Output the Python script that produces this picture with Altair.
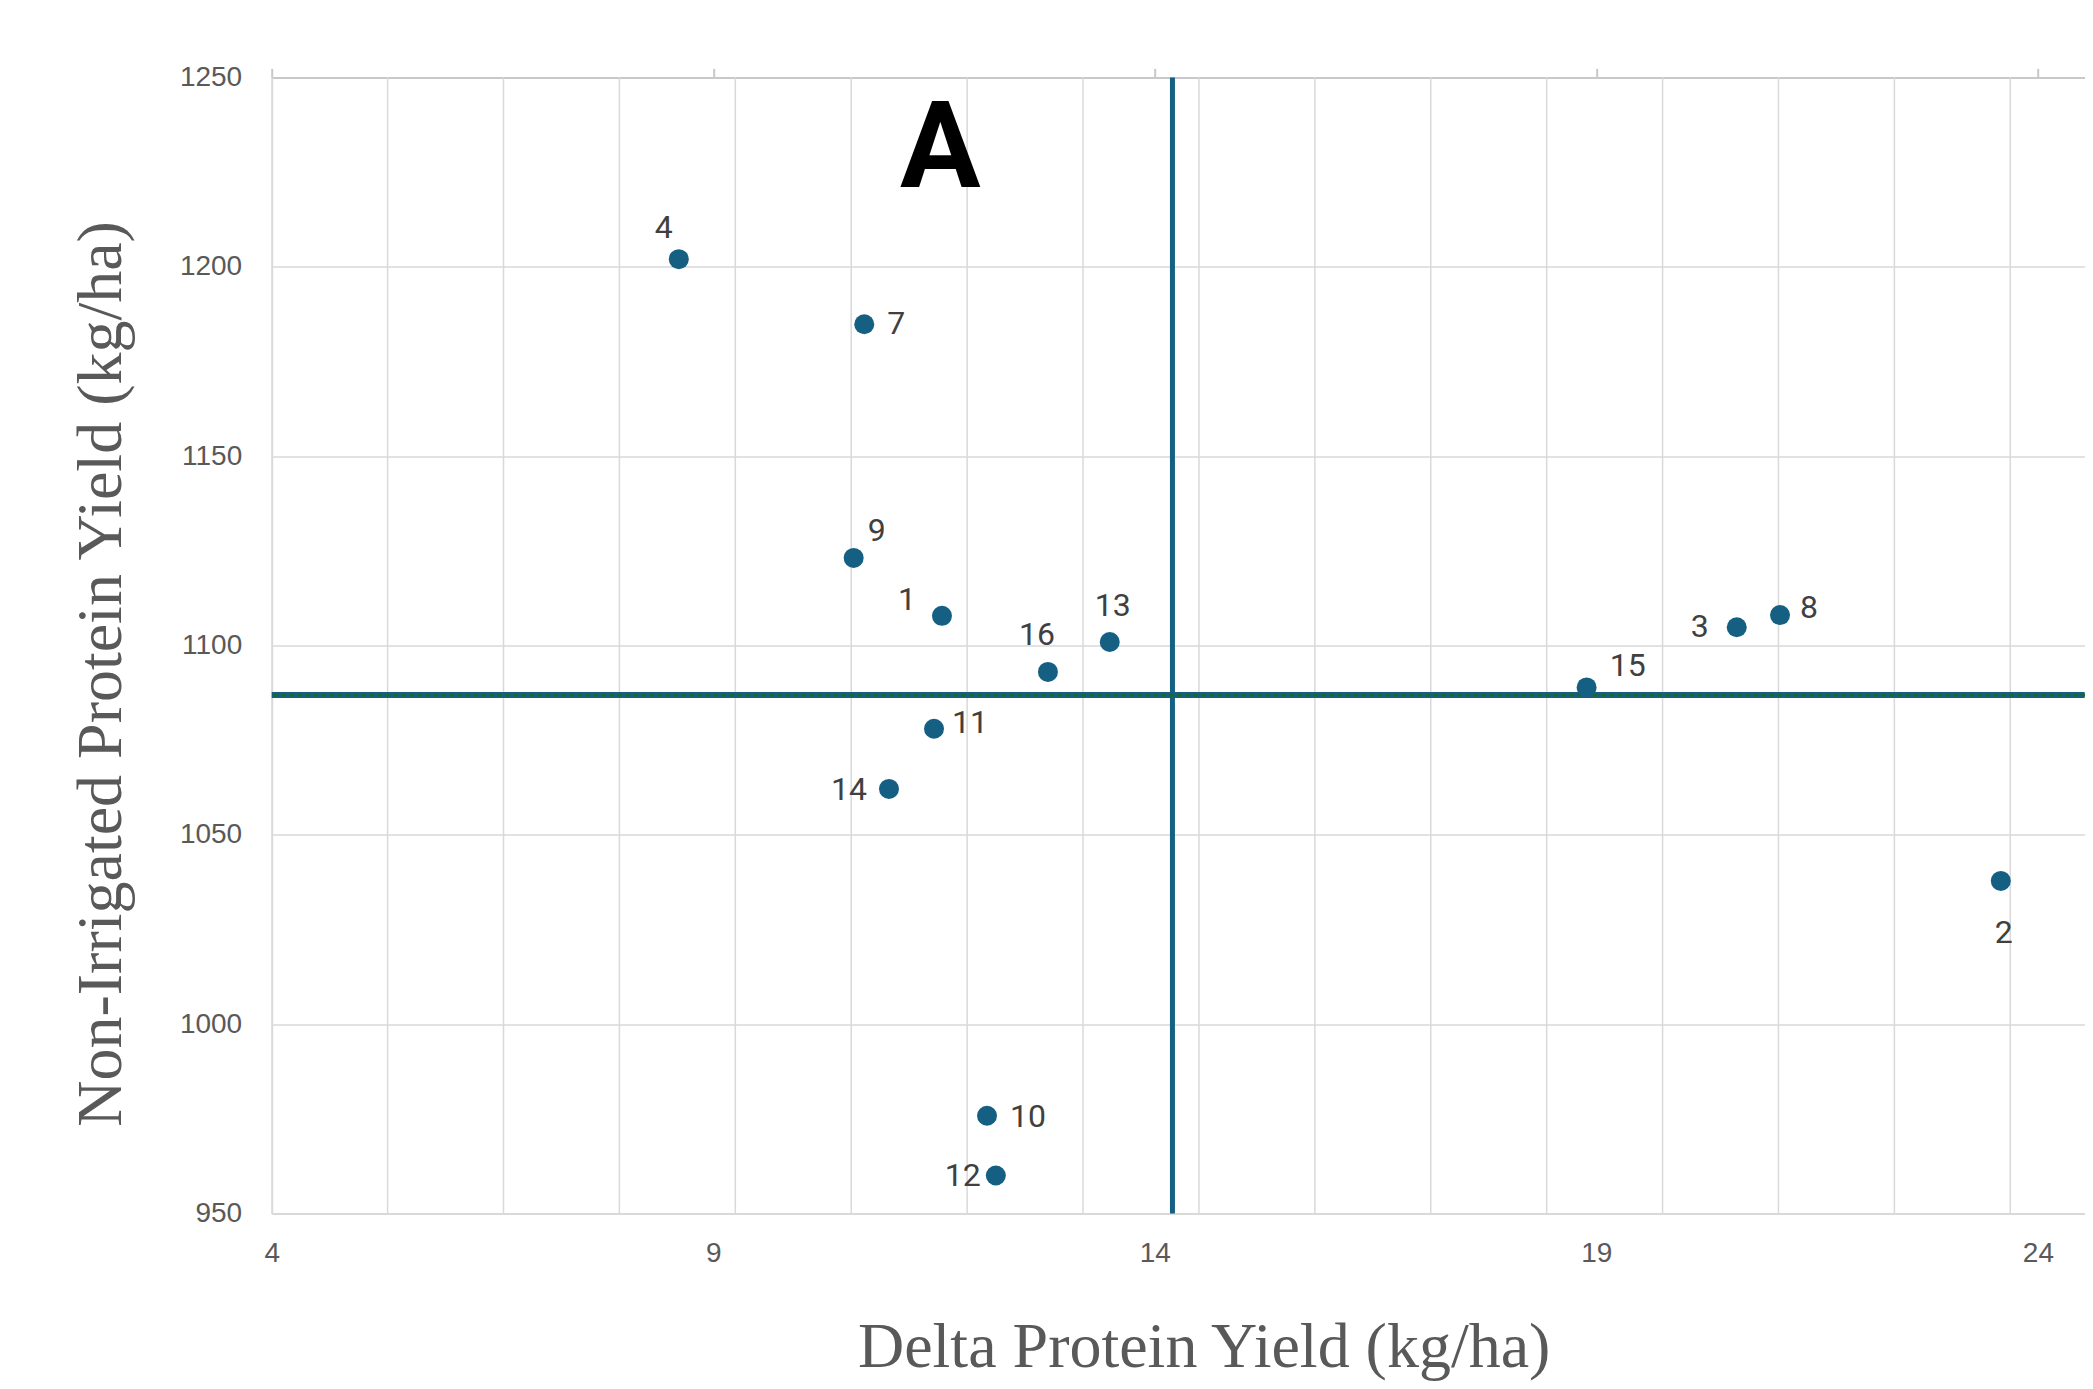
import altair as alt
import pandas as pd

# ---- data ----
genotype = ["1", "2", "3", "4", "7", "8", "9", "10", "11", "12", "13", "14", "15", "16"]
delta_protein = [11.59, 23.58, 20.59, 8.61, 10.71, 21.08, 10.59, 12.10, 11.50, 12.20, 13.49, 10.99, 18.89, 12.79]
nonirr_protein = [1107.8, 1037.8, 1104.8, 1202.0, 1184.8, 1108.0, 1123.1, 975.8, 1078.0, 960.0, 1100.9, 1062.1, 1088.9, 1093.0]

# label offsets (pixels) of each point label
label_dx = [-35, 3, -37, -15, 32, 29, 23, 41, 36, -33, 3, -40, 41, -11]
label_dy = [-16, 52, 0, -31, 0, -7, -27, 1, -6, 0, -36, 1, -21, -37]

x_ticks = [4, 9, 14, 19, 24]
y_ticks = [950, 1000, 1050, 1100, 1150, 1200, 1250]
x_grid = [5.3125, 6.625, 7.9375, 9.25, 10.5625, 11.875, 13.1875, 14.5,
          15.8125, 17.125, 18.4375, 19.75, 21.0625, 22.375, 23.6875]
x_domain = [4, 24.53]
y_domain = [950, 1250]
x_mean = [14.2]
y_mean = [1086.9]
panel_letter = ["A"]
panel_x = [11.57]
panel_y = [1221.0]

df = pd.DataFrame({"g": genotype, "x": delta_protein, "y": nonirr_protein})
grid_df = pd.DataFrame({"x": x_grid})
xm_df = pd.DataFrame({"x": x_mean})
ym_df = pd.DataFrame({"y": y_mean})
panel_df = pd.DataFrame({"t": panel_letter, "x": panel_x, "y": panel_y})

BLUE = "#156082"
GREEN = "#196B24"
GRAY_TXT = "#595959"

xs = alt.Scale(domain=x_domain, nice=False, zero=False)
ys = alt.Scale(domain=y_domain, nice=False, zero=False)

bottom_axis = alt.Axis(
    orient="bottom", values=x_ticks, grid=False, ticks=False, format="d",
    labelFlush=False, labelOverlap=False,
    domainColor="#d9d9d9", domainWidth=2,
    labelFont="Liberation Sans", labelFontSize=28, labelColor=GRAY_TXT, labelPadding=26,
    title="Delta Protein Yield (kg/ha)", titleFont="Liberation Serif", titleFontSize=64,
    titleFontWeight="normal", titleColor=GRAY_TXT, titleX=932, titleY=153,
    titleBaseline="alphabetic", titleAlign="center",
)
top_axis = alt.Axis(
    orient="top", values=x_ticks, labels=False, ticks=True, tickSize=9,
    tickColor="#c8c8c8", tickWidth=2, domainColor="#c8c8c8", domainWidth=2,
    grid=False, title=None,
)
left_axis = alt.Axis(
    orient="left", values=y_ticks, grid=True, gridColor="#d9d9d9", gridWidth=1.5,
    ticks=False, domainColor="#d9d9d9", domainWidth=2, format="d",
    labelFlush=False, labelOverlap=False,
    labelFont="Liberation Sans", labelFontSize=28, labelColor=GRAY_TXT, labelPadding=30,
    title="Non-Irrigated Protein Yield (kg/ha)", titleFont="Liberation Serif",
    titleFontSize=64, titleFontWeight="normal", titleColor=GRAY_TXT,
    titleX=-151, titleY=596, titleAngle=270, titleBaseline="alphabetic", titleAlign="center",
)

grid = alt.Chart(grid_df).mark_rule(color="#d9d9d9", strokeWidth=1.5).encode(
    x=alt.X("x:Q", scale=xs, axis=bottom_axis)
)

vline = alt.Chart(xm_df).mark_rule(color=BLUE, strokeWidth=5).encode(
    x=alt.X("x:Q", scale=xs, axis=top_axis)
)

hline = alt.Chart(ym_df).mark_rule(color=BLUE, strokeWidth=6).encode(
    y=alt.Y("y:Q", scale=ys, axis=None)
)
hline_dots = alt.Chart(ym_df).mark_rule(
    color=GREEN, strokeWidth=3, strokeDash=[2.5, 5.5], strokeCap="round"
).encode(y=alt.Y("y:Q", scale=ys, axis=None))

points = alt.Chart(df).mark_circle(size=400, color=BLUE, opacity=1).encode(
    x=alt.X("x:Q", scale=xs, axis=None),
    y=alt.Y("y:Q", scale=ys, axis=left_axis),
)

label_layers = []
for g, dx, dy in zip(genotype, label_dx, label_dy):
    label_layers.append(
        alt.Chart(df).transform_filter(alt.datum.g == g).mark_text(
            font="Roboto", fontSize=32, color="#404040", align="center",
            baseline="middle", dx=dx, dy=dy,
        ).encode(
            x=alt.X("x:Q", scale=xs, axis=None),
            y=alt.Y("y:Q", scale=ys, axis=None),
            text="g:N",
        )
    )

panel = alt.Chart(panel_df).mark_text(
    font="Roboto", fontSize=120, fontWeight="bold", color="black",
    align="center", baseline="alphabetic",
).encode(
    x=alt.X("x:Q", scale=xs, axis=None),
    y=alt.Y("y:Q", scale=ys, axis=None),
    text="t:N",
)

chart = alt.layer(grid, vline, hline, hline_dots, points, *label_layers, panel).resolve_axis(
    x="independent", y="independent"
).properties(
    width=1813, height=1136,
    autosize=alt.AutoSizeParams(type="none"),
    padding={"left": 263.7, "top": 69.4, "right": 0, "bottom": 168},
).configure_view(stroke=None)

chart.save("out.html", embed_options={"renderer": "svg", "actions": False})
